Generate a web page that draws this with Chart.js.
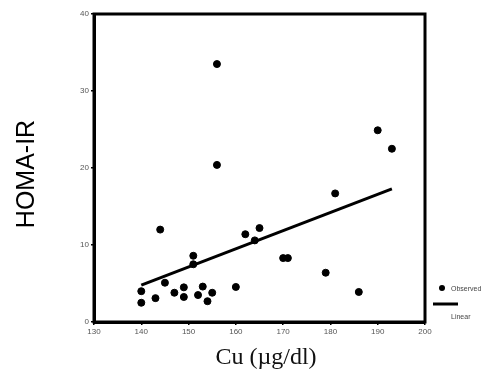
<!DOCTYPE html>
<html><head><meta charset="utf-8">
<script src="https://cdn.jsdelivr.net/npm/chart.js@4/dist/chart.umd.min.js"></script>
<style>html,body{margin:0;padding:0;background:#fff}#wrap{width:504px;height:374px}</style>
</head><body><div id="wrap"><canvas id="c"></canvas></div>
<script>
const cuValues = [140,140,143,145,144,147,149,149,151,151,152,153,154,155,156,156,160,162,164,165,170,171,179,181,186,190,193];
const homaValues = [2.5,4.0,3.1,5.1,12.0,3.8,4.5,3.25,8.6,7.5,3.5,4.6,2.7,3.8,33.5,20.4,4.55,11.4,10.6,12.2,8.3,8.3,6.4,16.7,3.9,24.9,22.5];
const linearX = [140,193];
const linearY = [4.8,17.3];
const xTicks = [130,140,150,160,170,180,190,200];
const yTicks = [0,10,20,30,40];

const observed = cuValues.map((x,i)=>({x:x,y:homaValues[i]}));
const linear = linearX.map((x,i)=>({x:x,y:linearY[i]}));

const deco = {
  id:'deco',
  afterDraw(chart){
    const {ctx, chartArea:a} = chart;
    ctx.save();
    ctx.strokeStyle='#000'; ctx.lineWidth=3;
    ctx.strokeRect(a.left,a.top,a.right-a.left,a.bottom-a.top);
    ctx.fillStyle='#000';
    ctx.font='25px "Liberation Sans", Arial, sans-serif';
    ctx.translate(27,174); ctx.rotate(-Math.PI/2);
    ctx.textAlign='center'; ctx.textBaseline='middle';
    ctx.fillText('HOMA-IR',0,0);
    ctx.restore();
    ctx.save();
    ctx.fillStyle='#111';
    ctx.font='24px "Liberation Serif", "Times New Roman", serif';
    ctx.textAlign='center'; ctx.textBaseline='middle';
    ctx.fillText('Cu (\u00b5g/dl)',266,358);
    // legend
    ctx.fillStyle='#000';
    ctx.beginPath(); ctx.arc(442,288,3,0,Math.PI*2); ctx.fill();
    ctx.fillStyle='#444';
    ctx.font='7px "Liberation Sans", Arial, sans-serif';
    ctx.textAlign='left';
    ctx.fillText('Observed',451,289);
    ctx.strokeStyle='#000'; ctx.lineWidth=3;
    ctx.beginPath(); ctx.moveTo(433,304); ctx.lineTo(458,304); ctx.stroke();
    ctx.fillText('Linear',451,317);
    ctx.restore();
  }
};

new Chart(document.getElementById('c'),{
  type:'scatter',
  data:{datasets:[
    {label:'Observed',data:observed,backgroundColor:'#000',borderColor:'#000',pointRadius:3.5,pointHoverRadius:3.5,showLine:false},
    {label:'Linear',data:linear,type:'line',borderColor:'#000',borderWidth:3,pointRadius:0,fill:false,showLine:true}
  ]},
  options:{
    responsive:true,maintainAspectRatio:false,animation:false,
    layout:{padding:{top:14,right:79,left:0,bottom:0}},
    plugins:{legend:{display:false},tooltip:{enabled:false}},
    scales:{
      x:{type:'linear',min:130,max:200,
        afterBuildTicks(s){s.ticks=xTicks.map(v=>({value:v}));},
        afterFit(s){s.height=52;},
        grid:{drawOnChartArea:false,drawTicks:true,tickLength:3,color:'#000',lineWidth:1.5},
        border:{display:true,color:'#000',width:3},
        ticks:{color:'#555',font:{size:8,family:'"Liberation Sans", Arial'},padding:2,maxRotation:0}},
      y:{type:'linear',min:0,max:40,
        afterBuildTicks(s){s.ticks=yTicks.map(v=>({value:v}));},
        afterFit(s){s.width=94;},
        grid:{drawOnChartArea:false,drawTicks:true,tickLength:3,color:'#000',lineWidth:1.5},
        border:{display:true,color:'#000',width:3},
        ticks:{color:'#555',font:{size:8,family:'"Liberation Sans", Arial'},padding:2}}
    }
  },
  plugins:[deco]
});
</script></body></html>
